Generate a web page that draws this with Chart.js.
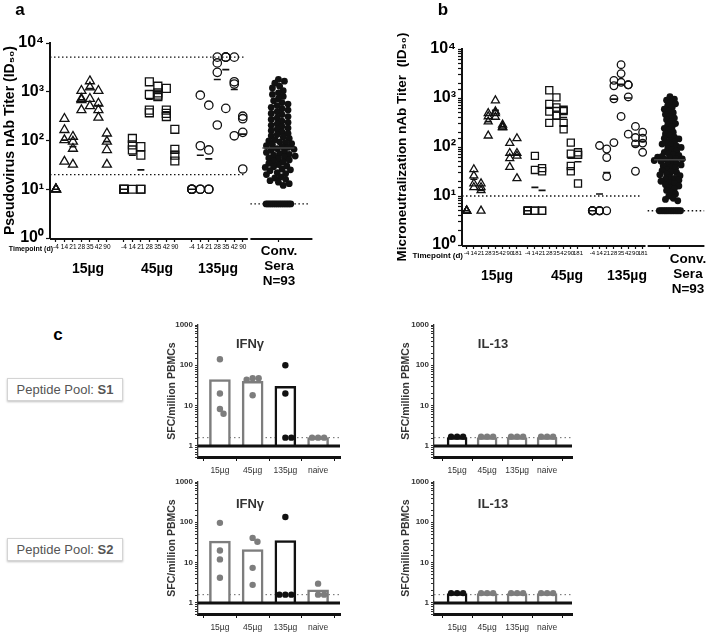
<!DOCTYPE html>
<html>
<head>
<meta charset="utf-8">
<title>nAb titers and ELISpot</title>
<script src="https://cdn.jsdelivr.net/npm/chart.js@4.4.1/dist/chart.umd.min.js"></script>
<style>
  body { margin: 0; background: #fff; }
  #page { position: relative; width: 722px; height: 641px; overflow: hidden; font-family: "Liberation Sans", Arial, sans-serif; }
  #page canvas { position: absolute; }
  .lbl { position: absolute; transform: translate(-50%, -50%); white-space: nowrap; font-weight: bold; color: #000; line-height: 1; }
  .right { transform: translate(-100%, -50%); }
  .panel { font-size: 17px; }
  .dose { font-size: 14px; }
  .conv { font-size: 13.5px; text-align: center; line-height: 15px; }
  .cyto { font-size: 13px; color: #333; }
  .tp { font-size: 7px; }
  .tpb { font-size: 8px; }
  .pool { position: absolute; left: 7px; width: 114px; height: 21px; border: 1px solid #d4d4d4; box-shadow: 0 1px 2px rgba(0,0,0,.25);
          font-size: 13px; color: #555; line-height: 21px; text-align: center; background: #fff; }
</style>
</head>
<body>
<div id="page">
  <canvas id="chartA" width="330" height="300" style="left:0;top:0"></canvas>
  <canvas id="chartB" width="362" height="300" style="left:360px;top:0"></canvas>
  <canvas id="ifnS1" width="190" height="172" style="left:166px;top:313px"></canvas>
  <canvas id="il13S1" width="190" height="172" style="left:400px;top:313px"></canvas>
  <canvas id="ifnS2" width="190" height="172" style="left:166px;top:470px"></canvas>
  <canvas id="il13S2" width="190" height="172" style="left:400px;top:470px"></canvas>
  <div class="lbl panel" style="left:20px;top:9px">a</div>
  <div class="lbl panel" style="left:443px;top:9px">b</div>
  <div class="lbl panel" style="left:58px;top:334px">c</div>
  <div class="pool" style="top:378px">Peptide Pool: <b>S1</b></div>
  <div class="pool" style="top:538px">Peptide Pool: <b>S2</b></div>
</div>
<script>
// ---- panel a: pseudovirus nAb titer (one list per timepoint) ----
const timepointsA = ['-4', '14', '21', '28', '35', '42', '90'];
const doseLabels = ['15µg', '45µg', '135µg'];
const pseudo15 = [[10, 10, 10, 10], [280, 165, 102, 37], [120, 95, 68, 32], [1050, 720, 680, 420], [1650, 1230, 720, 510], [1050, 575, 420, 295], [140, 95, 64, 32]];
const pseudo45 = [[10, 10, 10, 10], [110, 81, 64, 10], [75, 50, 10, 10], [1600, 880, 420, 370], [1300, 950, 850, 790], [1170, 420, 360, 310], [170, 66, 50, 38]];
const pseudo135 = [[10, 10, 10, 10], [850, 78, 10, 10], [530, 64, 10, 10], [5120, 3900, 2500, 208], [5120, 5120, 5120, 455], [5120, 1600, 1440, 125], [315, 280, 147, 26]];
const pseudo15Mean = [10, 102, 75, 680, 1160, 520, 95];
const pseudo45Mean = [10, 50, 25, 700, 925, 390, 59];
const pseudo135Mean = [10, 50, 42, 1780, 2850, 1110, 135];
const pseudoConv = [1800, 1650, 1500, 1300, 1200, 1050, 950, 880, 800, 720, 650, 600, 560, 520, 480, 450,
  420, 390, 360, 340, 310, 290, 270, 250, 235, 220, 205, 195, 180, 170, 160, 150, 140, 132, 125, 118, 110, 104,
  98, 94, 90, 86, 82, 78, 75, 72, 68, 66, 63, 60, 57, 54, 52, 50, 48, 46, 44, 42, 40, 38, 36, 34, 32, 30, 29, 28,
  26, 25, 24, 22, 21, 20, 18, 17, 16, 15, 14, 13, 12, 5, 5, 5, 5, 5, 5, 5, 5, 5, 5, 5, 5, 5, 5];
const pseudoConvMedian = 70;
const pseudoLimits = [20, 5120];
const pseudoConvFloor = 5;

// ---- panel b: microneutralization nAb titer ----
const timepointsB = ['-4', '14', '21', '28', '35', '42', '90', '181'];
const micro15 = [[5, 5, 5, 5], [35, 26, 18, 15], [18, 15, 13, 5], [490, 420, 330, 170], [890, 530, 490, 410], [285, 260, 255, 250], [120, 75, 59, 39], [150, 75, 66, 23]];
const micro45 = [[5, 5, 5, 5], [66, 34, 5, 5], [37, 32, 5, 5], [1440, 760, 530, 310], [1030, 640, 435, 435], [575, 540, 310, 230], [123, 73, 41, 32], [78, 69, 69, 18]];
const micro135 = [[5, 5, 5, 5], [107, 5, 5, 5], [91, 61, 25, 5], [2290, 1780, 960, 123], [4780, 3150, 2090, 420], [1860, 1860, 1050, 183], [263, 156, 116, 32], [200, 151, 120, 78]];
const micro15Mean = [5, 22, 13, 330, 560, 262, 68, 70];
const micro45Mean = [5, 15, 13, 620, 640, 400, 59, 50];
const micro135Mean = [5, 11, 30, 950, 1900, 1000, 105, 130];
const microConv = [1070, 950, 900, 820, 760, 700, 640, 590, 540, 500, 460, 420, 390, 360, 330, 300, 280, 260, 240, 220,
  200, 185, 170, 158, 150, 146, 135, 125, 118, 115, 110, 104, 98, 92, 87, 82, 78, 74, 70, 67, 64, 62, 60, 58, 57, 56,
  53, 51, 49, 47, 45, 43, 41, 39, 37, 35, 33, 31, 30, 28, 27, 26, 24, 23, 22, 21, 20, 19, 18, 17, 16, 15, 14, 13, 12,
  11, 10, 9, 8.5, 8, 5, 5, 5, 5, 5, 5, 5, 5, 5, 5, 5, 5, 5];
const microConvMedian = 55;
const microLimit = 10;
const microConvFloor = 5;

// ---- panel c: ELISpot, SFC per million PBMCs ----
const elispotGroups = ['15µg', '45µg', '135µg', 'naive'];
const ifnS1Bars = [44, 40, 30, 1.6];
const ifnS1Dots = [[141, 20, 8.2, 6.3], [48, 48, 44, 18], [100, 20, 1.6, 1.6], [1.6, 1.6, 1.6]];
const il13S1Bars = [1.6, 1.6, 1.6, 1.6];
const il13S1Dots = [[1.7, 1.7, 1.7], [1.7, 1.7, 1.7], [1.7, 1.7, 1.7], [1.7, 1.7, 1.7]];
const ifnS2Bars = [34, 21, 35, 2.1];
const ifnS2Dots = [[97, 20, 12, 4.2], [41, 33, 7.4, 2.8], [135, 1.6, 1.6, 1.6], [3, 1.6, 1.6]];
const il13S2Bars = [1.7, 1.7, 1.7, 1.7];
const il13S2Dots = [[1.75, 1.75, 1.75], [1.75, 1.75, 1.75], [1.75, 1.75, 1.75], [1.75, 1.75, 1.75]];
const elispotCutoff = 1.6;

const superDigits = ['⁰', '¹', '²', '³', '⁴'];
const GRAY = '#7d7d7d';
const INK = '#111';

Chart.defaults.font.family = '"Liberation Sans", Arial, sans-serif';
Chart.defaults.color = '#000';
Chart.defaults.animation = false;
Chart.defaults.events = [];
Chart.defaults.plugins.legend.display = false;
Chart.defaults.plugins.tooltip.enabled = false;

// x-offsets (in axis units) for a simple beeswarm, so that dots do not sit on each other
function swarm(values, pxPerX, pxPerDecade, minDist, floor) {
  const out = values.map(() => 0);
  const placed = [];
  const order = values.map((v, i) => i).sort((a, b) => values[b] - values[a]);
  const floorIdx = order.filter(i => values[i] === floor);
  order.filter(i => values[i] !== floor).forEach(i => {
    const y = Math.log10(values[i]) * pxPerDecade;
    for (let k = 0; k < 300; k++) {
      const dx = Math.ceil(k / 2) * 1.2 * (k % 2 ? 1 : -1);
      if (placed.every(p => (p.x - dx) ** 2 + (p.y - y) ** 2 >= minDist * minDist)) {
        placed.push({x: dx, y: y});
        out[i] = dx / pxPerX;
        break;
      }
    }
  });
  // values at the detection floor are packed tightly in one row
  floorIdx.forEach((i, j) => { out[i] = (j - (floorIdx.length - 1) / 2) * 1.9 / pxPerX; });
  return out;
}

function isDecade(v) {
  const e = Math.log10(v);
  return Math.abs(e - Math.round(e)) < 1e-9;
}

function decadeLabel(v) {
  return isDecade(v) ? '10' + superDigits[Math.round(Math.log10(v))] : '';
}

// draws the x axis line as separate pieces (vaccine groups / convalescent sera)
const axisSegments = {
  id: 'axisSegments',
  afterDatasetsDraw(chart, args, opts) {
    if (!opts.segments) return;
    const {ctx, chartArea} = chart;
    const x = chart.scales.x;
    ctx.save();
    ctx.strokeStyle = INK;
    ctx.lineWidth = opts.width;
    opts.segments.forEach(seg => {
      ctx.beginPath();
      ctx.moveTo(x.getPixelForValue(seg[0]), chartArea.bottom + 1);
      ctx.lineTo(x.getPixelForValue(seg[1]), chartArea.bottom + 1);
      ctx.stroke();
    });
    ctx.restore();
  }
};

// panels a and b: titers per timepoint plus convalescent sera
function titerChart(id, p) {
  const datasets = [];
  const tickPos = [];
  const tickText = [];
  p.groups.forEach((group, gi) => {
    const pts = [];
    const mids = [];
    group.forEach((vals, ti) => {
      const x = p.groupStart[gi] + ti;
      tickPos.push(x);
      tickText.push(p.timepoints[ti]);
      vals.forEach(v => pts.push({x: x, y: v}));
      mids.push({x: x, y: p.means[gi][ti]});
    });
    datasets.push({data: pts, pointStyle: p.markers[gi], pointRadius: p.radii[gi], pointBorderWidth: 1.3,
      pointBorderColor: INK, pointBackgroundColor: 'rgba(255,255,255,0)', order: 1});
    datasets.push({data: mids, pointStyle: 'line', pointRadius: 3.5, pointBorderWidth: 1.6, pointBorderColor: INK, order: 0});
  });
  tickPos.push(p.convX);
  tickText.push('');
  const offs = swarm(p.conv, p.pxPerX, p.pxPerDecade, p.swarmDist, p.convFloor);
  datasets.push({data: p.conv.map((v, i) => ({x: p.convX + offs[i], y: v})), pointStyle: 'circle', pointRadius: 3.4,
    pointBorderWidth: 0, pointBackgroundColor: INK, order: 1});
  datasets.push({data: [{x: p.convX, y: p.convMedian}], pointStyle: 'line', pointRadius: 16,
    pointBorderWidth: 1.6, pointBorderColor: '#444', order: 0});
  p.dotted.forEach(d => datasets.push({data: [{x: d[1], y: d[0]}, {x: d[2], y: d[0]}], showLine: true, pointRadius: 0,
    borderColor: INK, borderWidth: 1.3, borderDash: [1.5, 2.5], order: 2}));

  return new Chart(document.getElementById(id), {
    type: 'scatter',
    data: {datasets: datasets},
    options: {
      responsive: false,
      layout: {padding: p.padding},
      plugins: {axisSegments: {segments: p.segments, width: 2}},
      scales: {
        x: {
          type: 'linear', min: p.xMin, max: p.xMax, offset: false,
          afterBuildTicks: s => { s.ticks = tickPos.map(v => ({value: v})); },
          afterFit: s => { s.height = 16; },
          ticks: {autoSkip: false, maxRotation: 0, minRotation: 0, padding: 1, font: {size: p.tickFont}, callback: (v, i) => tickText[i]},
          grid: {drawOnChartArea: false, tickLength: 4, tickWidth: 1.2, tickColor: INK},
          border: {display: false}
        },
        y: {
          type: 'logarithmic', min: 1, max: 10000,
          afterBuildTicks: p.minorTicks ? undefined : s => { s.ticks = [1, 10, 100, 1000, 10000].map(v => ({value: v})); },
          afterFit: s => { s.width = p.yWidth; },
          title: {display: true, text: p.yTitle, color: '#000', font: {size: p.titleFont, weight: 'bold'}, padding: {top: p.titlePad, bottom: 0}},
          ticks: {autoSkip: false, padding: 2, font: {size: 16, weight: 'bold'}, callback: v => decadeLabel(v)},
          grid: {drawOnChartArea: false, tickLength: 4, tickWidth: 1.2, tickColor: INK},
          border: {color: INK, width: 2}
        }
      }
    },
    plugins: [axisSegments]
  });
}

// panel c: bar = group mean, dots = individual animals
function elispotChart(id, p) {
  const dots = [];
  const dotColors = [];
  p.dots.forEach((list, i) => {
    const offs = swarm(list, p.pxPerX, 40.3, 5.5, null);
    list.forEach((v, j) => { dots.push({x: i + offs[j], y: v}); dotColors.push(p.colors[i]); });
  });
  return new Chart(document.getElementById(id), {
    type: 'bar',
    data: {datasets: [
      {type: 'line', data: [{x: p.xMin, y: 1}, {x: p.xMax, y: 1}], borderColor: INK, borderWidth: 3, pointRadius: 0, order: 0},
      {type: 'scatter', data: dots, pointRadius: 3.2, pointBorderWidth: 0, pointBackgroundColor: dotColors, order: 1},
      {type: 'bar', data: p.bars.map((v, i) => ({x: i, y: [1, v]})), backgroundColor: '#fff', borderColor: p.colors,
        borderWidth: 2.5, barThickness: p.barWidth, order: 2},
      {type: 'line', data: [{x: p.xMin, y: elispotCutoff}, {x: p.xMax, y: elispotCutoff}], borderColor: '#666',
        borderWidth: 1, borderDash: [1.5, 3], pointRadius: 0, order: 3}
    ]},
    options: {
      responsive: false,
      layout: {padding: {left: 0, top: 12, right: p.padRight, bottom: 6}},
      scales: {
        x: {
          type: 'linear', min: p.xMin, max: p.xMax, offset: false,
          afterBuildTicks: s => { s.ticks = elispotGroups.map((g, i) => ({value: i})); },
          afterFit: s => { s.height = 22; },
          ticks: {autoSkip: false, maxRotation: 0, minRotation: 0, padding: 5, color: '#333', font: {size: 8.5}, callback: (v, i) => elispotGroups[i]},
          grid: {drawOnChartArea: false, tickLength: 4, tickColor: INK, tickWidth: 1},
          border: {color: INK, width: 3}
        },
        y: {
          type: 'logarithmic', min: 0.53, max: 1000,
          afterFit: s => { s.width = p.yWidth; },
          title: {display: true, text: 'SFC/million PBMCs', color: '#333', font: {size: 10.5, weight: 'bold'}, padding: {top: 0, bottom: 0}},
          ticks: {autoSkip: false, padding: 2, color: '#333', font: {size: 8, weight: 'bold'}, callback: v => (isDecade(v) && v >= 1 ? String(Math.round(v)) : '')},
          grid: {drawOnChartArea: false, tickLength: 3, tickColor: '#333', tickWidth: 1},
          border: {color: '#333', width: 1.3}
        }
      }
    }
  });
}

const page = document.getElementById('page');
function addLabel(html, x, y, cls) {
  const d = document.createElement('div');
  d.className = 'lbl ' + cls;
  d.style.left = x + 'px';
  d.style.top = y + 'px';
  d.innerHTML = html;
  page.appendChild(d);
}

titerChart('chartA', {
  groups: [pseudo15, pseudo45, pseudo135],
  means: [pseudo15Mean, pseudo45Mean, pseudo135Mean],
  timepoints: timepointsA,
  conv: pseudoConv, convMedian: pseudoConvMedian, convFloor: pseudoConvFloor, swarmDist: 5.2,
  markers: ['triangle', 'rect', 'circle'], radii: [5.2, 5.6, 4.2],
  groupStart: [0, 8, 16], convX: 26.2, xMin: -0.7, xMax: 30.2, pxPerX: 8.5, pxPerDecade: 48.75,
  dotted: [[pseudoLimits[0], -0.7, 22.2], [pseudoLimits[1], -0.7, 22.2], [pseudoConvFloor, 22.9, 29.8]],
  segments: [[-0.7, 22.6], [22.9, 30.2]],
  padding: {left: 0, top: 43, right: 17, bottom: 46}, yWidth: 50,
  yTitle: 'Pseudovirus nAb Titer (ID₅₀)', titleFont: 14, titlePad: 2, tickFont: 6.5, minorTicks: false
});

titerChart('chartB', {
  groups: [micro15, micro45, micro135],
  means: [micro15Mean, micro45Mean, micro135Mean],
  timepoints: timepointsB,
  conv: microConv, convMedian: microConvMedian, convFloor: microConvFloor, swarmDist: 4.5,
  markers: ['triangle', 'rect', 'circle'], radii: [4.6, 5, 3.8],
  groupStart: [0, 8.5, 17.5], convX: 28.3, xMin: -0.65, xMax: 33.1, pxPerX: 7.7, pxPerDecade: 49,
  dotted: [[microLimit, -0.65, 24.4], [microConvFloor, 25.2, 33.1]],
  segments: [[-0.65, 24.9], [25.2, 33.1]],
  padding: {left: 30, top: 49, right: 0, bottom: 39}, yWidth: 72,
  yTitle: 'Microneutralization nAb Titer  (ID₅₀)', titleFont: 13.5, titlePad: 4, tickFont: 6, minorTicks: true
});

const ifnLayout = {xMin: -0.67, xMax: 3.67, pxPerX: 32.7, barWidth: 21, padRight: 16, yWidth: 32, colors: [GRAY, GRAY, INK, GRAY]};
const il13Layout = {xMin: -0.77, xMax: 3.83, pxPerX: 30, barWidth: 20, padRight: 18, yWidth: 34, colors: [INK, GRAY, GRAY, GRAY]};
elispotChart('ifnS1', Object.assign({bars: ifnS1Bars, dots: ifnS1Dots}, ifnLayout));
elispotChart('il13S1', Object.assign({bars: il13S1Bars, dots: il13S1Dots}, il13Layout));
elispotChart('ifnS2', Object.assign({bars: ifnS2Bars, dots: ifnS2Dots}, ifnLayout));
elispotChart('il13S2', Object.assign({bars: il13S2Bars, dots: il13S2Dots}, il13Layout));

// text around the axes
doseLabels.forEach((t, i) => addLabel(t, [88, 157, 218][i], 268, 'dose'));
doseLabels.forEach((t, i) => addLabel(t, [497, 567, 627][i], 275, 'dose'));
addLabel('Timepoint (d)', 53, 248, 'right tp');
addLabel('Timepoint (d)', 463, 256, 'right tpb');
addLabel('Conv.<br>Sera<br>N=' + pseudoConv.length, 279, 265, 'conv');
addLabel('Conv.<br>Sera<br>N=' + microConv.length, 688, 273, 'conv');
addLabel('IFNγ', 250, 343, 'cyto');
addLabel('IL-13', 493, 343, 'cyto');
addLabel('IFNγ', 250, 503, 'cyto');
addLabel('IL-13', 493, 503, 'cyto');
</script>
</body>
</html>
